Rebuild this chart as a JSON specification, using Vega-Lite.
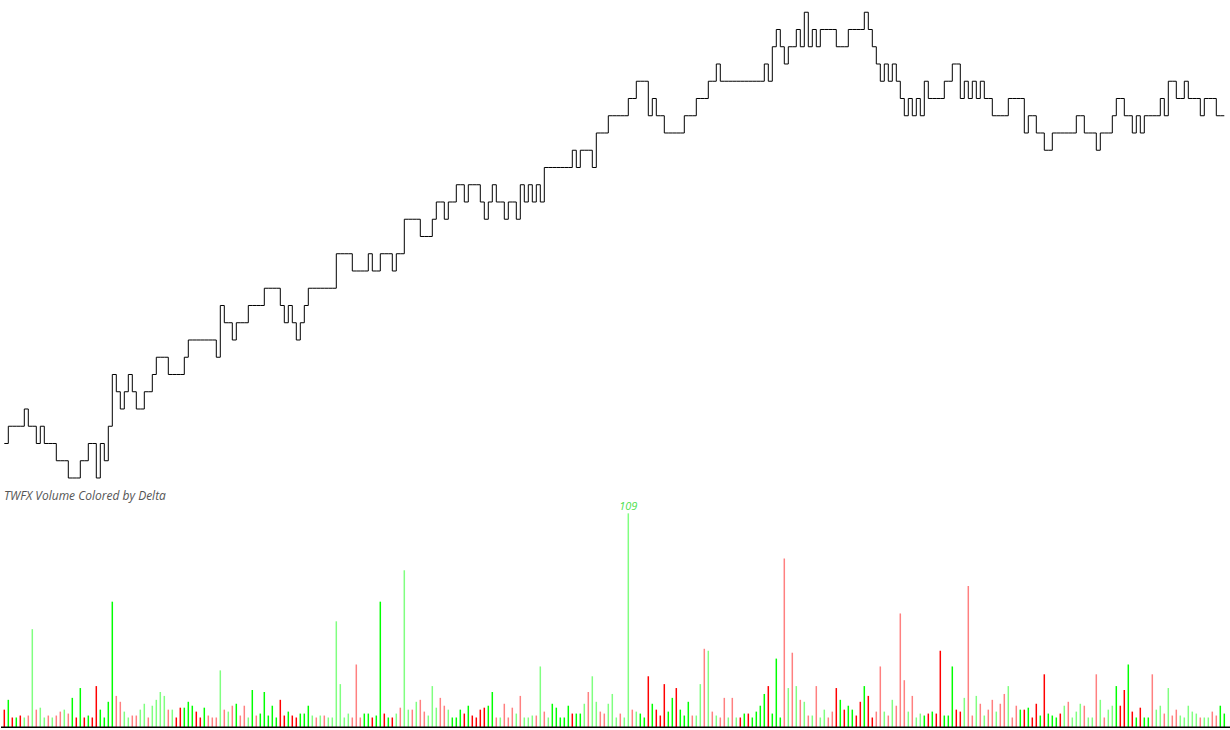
{
"$schema": "https://vega.github.io/schema/vega-lite/v6.json",
"padding": 0,
"spacing": 0,
"bounds": "flush",
"background": "white",
"config": {"view": {"stroke": null}, "concat": {"spacing": 0}},
"data": {"values": [
{"i":0,"p":2,"v":9,"d":"R"},{"i":1,"p":3,"v":14,"d":"G"},{"i":2,"p":3,"v":5,"d":"R"},{"i":3,"p":3,"v":5,"d":"G"},{"i":4,"p":3,"v":6,"d":"R"},
{"i":5,"p":4,"v":5,"d":"g"},{"i":6,"p":3,"v":6,"d":"r"},{"i":7,"p":3,"v":50,"d":"g"},{"i":8,"p":2,"v":9,"d":"r"},{"i":9,"p":3,"v":10,"d":"g"},
{"i":10,"p":2,"v":5,"d":"g"},{"i":11,"p":2,"v":6,"d":"r"},{"i":12,"p":2,"v":5,"d":"g"},{"i":13,"p":1,"v":6,"d":"r"},{"i":14,"p":1,"v":8,"d":"r"},
{"i":15,"p":1,"v":9,"d":"g"},{"i":16,"p":0,"v":7,"d":"r"},{"i":17,"p":0,"v":15,"d":"G"},{"i":18,"p":0,"v":5,"d":"R"},{"i":19,"p":1,"v":20,"d":"G"},
{"i":20,"p":1,"v":5,"d":"R"},{"i":21,"p":2,"v":6,"d":"G"},{"i":22,"p":2,"v":5,"d":"R"},{"i":23,"p":0,"v":21,"d":"R"},{"i":24,"p":2,"v":9,"d":"G"},
{"i":25,"p":1,"v":5,"d":"G"},{"i":26,"p":3,"v":13,"d":"G"},{"i":27,"p":6,"v":64,"d":"G"},{"i":28,"p":5,"v":16,"d":"r"},{"i":29,"p":4,"v":13,"d":"r"},
{"i":30,"p":5,"v":8,"d":"g"},{"i":31,"p":6,"v":5,"d":"g"},{"i":32,"p":5,"v":6,"d":"r"},{"i":33,"p":4,"v":6,"d":"r"},{"i":34,"p":4,"v":9,"d":"g"},
{"i":35,"p":5,"v":12,"d":"g"},{"i":36,"p":5,"v":5,"d":"r"},{"i":37,"p":6,"v":11,"d":"g"},{"i":38,"p":7,"v":14,"d":"g"},{"i":39,"p":7,"v":18,"d":"g"},
{"i":40,"p":7,"v":16,"d":"g"},{"i":41,"p":6,"v":9,"d":"r"},{"i":42,"p":6,"v":9,"d":"g"},{"i":43,"p":6,"v":5,"d":"R"},{"i":44,"p":6,"v":10,"d":"R"},
{"i":45,"p":7,"v":10,"d":"G"},{"i":46,"p":8,"v":13,"d":"G"},{"i":47,"p":8,"v":11,"d":"G"},{"i":48,"p":8,"v":8,"d":"R"},{"i":49,"p":8,"v":5,"d":"R"},
{"i":50,"p":8,"v":10,"d":"G"},{"i":51,"p":8,"v":6,"d":"r"},{"i":52,"p":8,"v":5,"d":"r"},{"i":53,"p":7,"v":5,"d":"r"},{"i":54,"p":10,"v":29,"d":"g"},
{"i":55,"p":9,"v":9,"d":"r"},{"i":56,"p":9,"v":8,"d":"g"},{"i":57,"p":8,"v":11,"d":"r"},{"i":58,"p":9,"v":12,"d":"G"},{"i":59,"p":9,"v":6,"d":"r"},
{"i":60,"p":9,"v":11,"d":"r"},{"i":61,"p":10,"v":5,"d":"g"},{"i":62,"p":10,"v":19,"d":"G"},{"i":63,"p":10,"v":6,"d":"r"},{"i":64,"p":10,"v":7,"d":"G"},
{"i":65,"p":11,"v":18,"d":"G"},{"i":66,"p":11,"v":6,"d":"G"},{"i":67,"p":11,"v":11,"d":"G"},{"i":68,"p":11,"v":5,"d":"G"},{"i":69,"p":10,"v":14,"d":"R"},
{"i":70,"p":9,"v":6,"d":"R"},{"i":71,"p":10,"v":8,"d":"G"},{"i":72,"p":9,"v":6,"d":"R"},{"i":73,"p":8,"v":5,"d":"R"},{"i":74,"p":9,"v":7,"d":"G"},
{"i":75,"p":10,"v":7,"d":"G"},{"i":76,"p":11,"v":11,"d":"G"},{"i":77,"p":11,"v":6,"d":"g"},{"i":78,"p":11,"v":5,"d":"r"},{"i":79,"p":11,"v":6,"d":"g"},
{"i":80,"p":11,"v":6,"d":"r"},{"i":81,"p":11,"v":5,"d":"g"},{"i":82,"p":11,"v":5,"d":"g"},{"i":83,"p":13,"v":54,"d":"g"},{"i":84,"p":13,"v":22,"d":"g"},
{"i":85,"p":13,"v":5,"d":"g"},{"i":86,"p":13,"v":7,"d":"g"},{"i":87,"p":12,"v":5,"d":"r"},{"i":88,"p":12,"v":32,"d":"r"},{"i":89,"p":12,"v":5,"d":"r"},
{"i":90,"p":12,"v":7,"d":"G"},{"i":91,"p":13,"v":7,"d":"G"},{"i":92,"p":12,"v":5,"d":"R"},{"i":93,"p":12,"v":6,"d":"G"},{"i":94,"p":13,"v":64,"d":"G"},
{"i":95,"p":13,"v":7,"d":"R"},{"i":96,"p":13,"v":5,"d":"G"},{"i":97,"p":12,"v":5,"d":"R"},{"i":98,"p":13,"v":7,"d":"g"},{"i":99,"p":13,"v":10,"d":"r"},
{"i":100,"p":15,"v":80,"d":"g"},{"i":101,"p":15,"v":9,"d":"g"},{"i":102,"p":15,"v":9,"d":"r"},{"i":103,"p":15,"v":13,"d":"g"},{"i":104,"p":14,"v":14,"d":"r"},
{"i":105,"p":14,"v":8,"d":"r"},{"i":106,"p":14,"v":6,"d":"g"},{"i":107,"p":15,"v":21,"d":"g"},{"i":108,"p":16,"v":10,"d":"g"},{"i":109,"p":16,"v":15,"d":"r"},
{"i":110,"p":15,"v":11,"d":"r"},{"i":111,"p":16,"v":9,"d":"g"},{"i":112,"p":16,"v":5,"d":"G"},{"i":113,"p":17,"v":5,"d":"G"},{"i":114,"p":17,"v":9,"d":"G"},
{"i":115,"p":16,"v":7,"d":"R"},{"i":116,"p":17,"v":11,"d":"G"},{"i":117,"p":17,"v":6,"d":"R"},{"i":118,"p":17,"v":5,"d":"R"},{"i":119,"p":16,"v":9,"d":"R"},
{"i":120,"p":15,"v":10,"d":"R"},{"i":121,"p":16,"v":11,"d":"G"},{"i":122,"p":17,"v":18,"d":"G"},{"i":123,"p":16,"v":5,"d":"r"},{"i":124,"p":16,"v":5,"d":"g"},
{"i":125,"p":15,"v":12,"d":"r"},{"i":126,"p":16,"v":5,"d":"r"},{"i":127,"p":16,"v":10,"d":"r"},{"i":128,"p":15,"v":7,"d":"g"},{"i":129,"p":17,"v":16,"d":"r"},
{"i":130,"p":16,"v":5,"d":"g"},{"i":131,"p":17,"v":5,"d":"g"},{"i":132,"p":16,"v":6,"d":"g"},{"i":133,"p":17,"v":6,"d":"r"},{"i":134,"p":16,"v":31,"d":"g"},
{"i":135,"p":18,"v":8,"d":"r"},{"i":136,"p":18,"v":5,"d":"g"},{"i":137,"p":18,"v":12,"d":"G"},{"i":138,"p":18,"v":10,"d":"G"},{"i":139,"p":18,"v":5,"d":"G"},
{"i":140,"p":18,"v":5,"d":"G"},{"i":141,"p":18,"v":11,"d":"G"},{"i":142,"p":19,"v":7,"d":"R"},{"i":143,"p":18,"v":7,"d":"G"},{"i":144,"p":19,"v":7,"d":"G"},
{"i":145,"p":19,"v":12,"d":"g"},{"i":146,"p":19,"v":18,"d":"r"},{"i":147,"p":18,"v":26,"d":"g"},{"i":148,"p":20,"v":13,"d":"g"},{"i":149,"p":20,"v":8,"d":"r"},
{"i":150,"p":20,"v":7,"d":"r"},{"i":151,"p":21,"v":12,"d":"g"},{"i":152,"p":21,"v":17,"d":"g"},{"i":153,"p":21,"v":5,"d":"g"},{"i":154,"p":21,"v":7,"d":"r"},
{"i":155,"p":21,"v":5,"d":"g"},{"i":156,"p":22,"v":109,"d":"g"},{"i":157,"p":22,"v":9,"d":"r"},{"i":158,"p":23,"v":8,"d":"g"},{"i":159,"p":23,"v":7,"d":"G"},
{"i":160,"p":23,"v":5,"d":"G"},{"i":161,"p":21,"v":26,"d":"R"},{"i":162,"p":22,"v":12,"d":"G"},{"i":163,"p":21,"v":9,"d":"R"},{"i":164,"p":21,"v":6,"d":"R"},
{"i":165,"p":20,"v":22,"d":"R"},{"i":166,"p":20,"v":8,"d":"G"},{"i":167,"p":20,"v":15,"d":"G"},{"i":168,"p":20,"v":20,"d":"R"},{"i":169,"p":20,"v":9,"d":"G"},
{"i":170,"p":21,"v":6,"d":"G"},{"i":171,"p":21,"v":13,"d":"G"},{"i":172,"p":21,"v":6,"d":"r"},{"i":173,"p":22,"v":6,"d":"g"},{"i":174,"p":22,"v":22,"d":"g"},
{"i":175,"p":22,"v":40,"d":"r"},{"i":176,"p":23,"v":39,"d":"g"},{"i":177,"p":23,"v":8,"d":"r"},{"i":178,"p":24,"v":6,"d":"g"},{"i":179,"p":23,"v":5,"d":"r"},
{"i":180,"p":23,"v":15,"d":"r"},{"i":181,"p":23,"v":5,"d":"g"},{"i":182,"p":23,"v":15,"d":"r"},{"i":183,"p":23,"v":5,"d":"g"},{"i":184,"p":23,"v":5,"d":"R"},
{"i":185,"p":23,"v":7,"d":"G"},{"i":186,"p":23,"v":7,"d":"R"},{"i":187,"p":23,"v":5,"d":"G"},{"i":188,"p":23,"v":8,"d":"G"},{"i":189,"p":23,"v":11,"d":"G"},
{"i":190,"p":24,"v":17,"d":"G"},{"i":191,"p":23,"v":21,"d":"R"},{"i":192,"p":25,"v":7,"d":"G"},{"i":193,"p":26,"v":35,"d":"G"},{"i":194,"p":25,"v":5,"d":"G"},
{"i":195,"p":24,"v":86,"d":"r"},{"i":196,"p":25,"v":20,"d":"g"},{"i":197,"p":25,"v":38,"d":"r"},{"i":198,"p":26,"v":21,"d":"g"},{"i":199,"p":25,"v":14,"d":"r"},
{"i":200,"p":27,"v":13,"d":"g"},{"i":201,"p":25,"v":6,"d":"r"},{"i":202,"p":26,"v":6,"d":"g"},{"i":203,"p":25,"v":21,"d":"r"},{"i":204,"p":26,"v":5,"d":"g"},
{"i":205,"p":26,"v":9,"d":"g"},{"i":206,"p":26,"v":5,"d":"r"},{"i":207,"p":26,"v":8,"d":"r"},{"i":208,"p":25,"v":20,"d":"R"},{"i":209,"p":25,"v":14,"d":"G"},
{"i":210,"p":25,"v":9,"d":"R"},{"i":211,"p":26,"v":11,"d":"G"},{"i":212,"p":26,"v":9,"d":"G"},{"i":213,"p":26,"v":6,"d":"R"},{"i":214,"p":26,"v":13,"d":"R"},
{"i":215,"p":27,"v":21,"d":"G"},{"i":216,"p":26,"v":16,"d":"R"},{"i":217,"p":25,"v":5,"d":"R"},{"i":218,"p":24,"v":8,"d":"r"},{"i":219,"p":23,"v":31,"d":"r"},
{"i":220,"p":24,"v":8,"d":"g"},{"i":221,"p":23,"v":6,"d":"r"},{"i":222,"p":24,"v":14,"d":"g"},{"i":223,"p":23,"v":11,"d":"r"},{"i":224,"p":22,"v":58,"d":"r"},
{"i":225,"p":21,"v":24,"d":"r"},{"i":226,"p":22,"v":8,"d":"g"},{"i":227,"p":21,"v":16,"d":"r"},{"i":228,"p":22,"v":5,"d":"g"},{"i":229,"p":21,"v":7,"d":"g"},
{"i":230,"p":23,"v":6,"d":"G"},{"i":231,"p":22,"v":7,"d":"R"},{"i":232,"p":22,"v":8,"d":"G"},{"i":233,"p":22,"v":7,"d":"R"},{"i":234,"p":22,"v":39,"d":"R"},
{"i":235,"p":23,"v":6,"d":"G"},{"i":236,"p":23,"v":6,"d":"G"},{"i":237,"p":24,"v":31,"d":"G"},{"i":238,"p":24,"v":9,"d":"R"},{"i":239,"p":22,"v":8,"d":"R"},
{"i":240,"p":23,"v":15,"d":"g"},{"i":241,"p":22,"v":72,"d":"r"},{"i":242,"p":23,"v":6,"d":"r"},{"i":243,"p":22,"v":16,"d":"g"},{"i":244,"p":23,"v":12,"d":"r"},
{"i":245,"p":22,"v":6,"d":"g"},{"i":246,"p":22,"v":9,"d":"r"},{"i":247,"p":21,"v":14,"d":"r"},{"i":248,"p":21,"v":8,"d":"g"},{"i":249,"p":21,"v":12,"d":"r"},
{"i":250,"p":21,"v":17,"d":"r"},{"i":251,"p":22,"v":21,"d":"g"},{"i":252,"p":22,"v":5,"d":"r"},{"i":253,"p":22,"v":11,"d":"r"},{"i":254,"p":22,"v":9,"d":"G"},
{"i":255,"p":20,"v":9,"d":"R"},{"i":256,"p":21,"v":10,"d":"G"},{"i":257,"p":21,"v":5,"d":"R"},{"i":258,"p":20,"v":12,"d":"R"},{"i":259,"p":20,"v":6,"d":"G"},
{"i":260,"p":19,"v":27,"d":"R"},{"i":261,"p":19,"v":7,"d":"G"},{"i":262,"p":20,"v":6,"d":"G"},{"i":263,"p":20,"v":5,"d":"G"},{"i":264,"p":20,"v":7,"d":"R"},
{"i":265,"p":20,"v":11,"d":"g"},{"i":266,"p":20,"v":13,"d":"r"},{"i":267,"p":20,"v":5,"d":"g"},{"i":268,"p":21,"v":8,"d":"g"},{"i":269,"p":21,"v":12,"d":"g"},
{"i":270,"p":20,"v":11,"d":"r"},{"i":271,"p":20,"v":5,"d":"g"},{"i":272,"p":20,"v":5,"d":"g"},{"i":273,"p":19,"v":27,"d":"r"},{"i":274,"p":20,"v":14,"d":"g"},
{"i":275,"p":20,"v":5,"d":"r"},{"i":276,"p":20,"v":9,"d":"g"},{"i":277,"p":21,"v":11,"d":"g"},{"i":278,"p":22,"v":21,"d":"G"},{"i":279,"p":22,"v":11,"d":"R"},
{"i":280,"p":21,"v":19,"d":"R"},{"i":281,"p":21,"v":32,"d":"G"},{"i":282,"p":20,"v":8,"d":"R"},{"i":283,"p":21,"v":5,"d":"G"},{"i":284,"p":20,"v":10,"d":"R"},
{"i":285,"p":21,"v":5,"d":"G"},{"i":286,"p":21,"v":5,"d":"G"},{"i":287,"p":21,"v":27,"d":"r"},{"i":288,"p":21,"v":9,"d":"g"},{"i":289,"p":22,"v":11,"d":"g"},
{"i":290,"p":21,"v":7,"d":"r"},{"i":291,"p":23,"v":20,"d":"g"},{"i":292,"p":23,"v":6,"d":"r"},{"i":293,"p":22,"v":9,"d":"r"},{"i":294,"p":22,"v":6,"d":"g"},
{"i":295,"p":23,"v":5,"d":"g"},{"i":296,"p":22,"v":11,"d":"g"},{"i":297,"p":22,"v":8,"d":"g"},{"i":298,"p":22,"v":7,"d":"g"},{"i":299,"p":21,"v":5,"d":"r"},
{"i":300,"p":22,"v":5,"d":"g"},{"i":301,"p":22,"v":5,"d":"g"},{"i":302,"p":22,"v":8,"d":"r"},{"i":303,"p":21,"v":6,"d":"r"},{"i":304,"p":21,"v":11,"d":"G"},
{"i":305,"p":21,"v":7,"d":"G"}
]},
"vconcat": [
{
 "width": 1230, "height": 489,
 "mark": {"type": "line", "interpolate": "step-after", "color": "#000000", "strokeWidth": 1},
 "encoding": {
  "x": {"field": "i", "type": "quantitative", "scale": {"domain": [-0.825, 306.675], "nice": false, "zero": false}, "axis": null},
  "y": {"field": "p", "type": "quantitative", "scale": {"domain": [-0.638, 27.71], "nice": false, "zero": false}, "axis": null}
 }
},
{
 "width": 1230, "height": 241,
 "title": {"text": "TWFX Volume Colored by Delta", "anchor": "start", "frame": "group", "fontSize": 12, "fontStyle": "italic", "fontWeight": "normal", "font": "Open Sans", "color": "#555555", "offset": -14, "dx": 3},
 "layer": [
  {
   "mark": {"type": "rule", "strokeWidth": 1.5},
   "encoding": {
    "x": {"field": "i", "type": "quantitative", "scale": {"domain": [-0.825, 306.675], "nice": false, "zero": false}, "axis": null},
    "y": {"field": "v", "type": "quantitative", "scale": {"domain": [-1.37, 121.4], "nice": false, "zero": false}, "axis": null},
    "y2": {"datum": 0},
    "color": {"field": "d", "type": "nominal", "scale": {"domain": ["G", "g", "R", "r"], "range": ["#00ff00", "#80ff80", "#ff0000", "#ff8080"]}, "legend": null}
   }
  },
  {
   "data": {"values": [{"base": 0}]},
   "mark": {"type": "rule", "color": "#000000", "strokeWidth": 1.5},
   "encoding": {"y": {"field": "base", "type": "quantitative"}}
  },
  {
   "transform": [{"joinaggregate": [{"op": "max", "field": "v", "as": "vmax"}]}, {"filter": "datum.v == datum.vmax"}],
   "mark": {"type": "text", "baseline": "alphabetic", "dy": -3, "fontSize": 11, "fontStyle": "italic", "font": "Open Sans", "color": "#4ddf4d"},
   "encoding": {
    "x": {"field": "i", "type": "quantitative"},
    "y": {"field": "v", "type": "quantitative"},
    "text": {"field": "v", "type": "quantitative"}
   }
  }
 ]
}
]
}
